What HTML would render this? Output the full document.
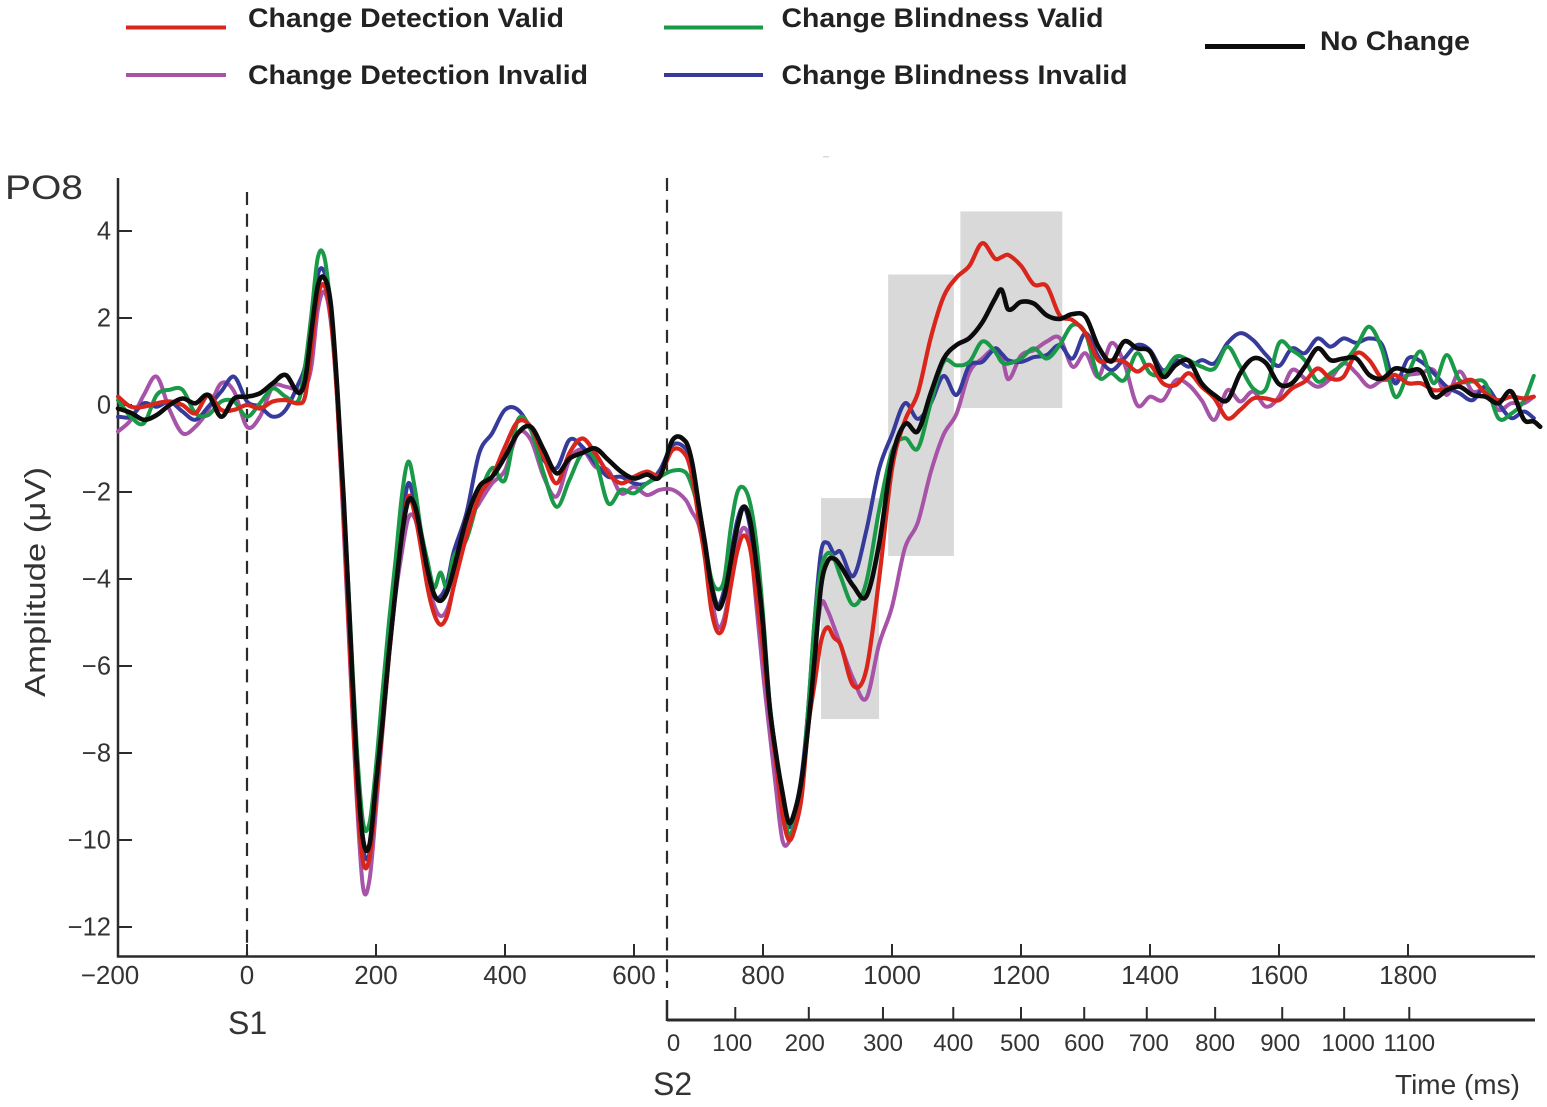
<!DOCTYPE html>
<html lang="en">
<head>
<meta charset="utf-8">
<title>PO8 ERP waveforms</title>
<style>
html,body{margin:0;padding:0;background:#fff;}
svg{display:block;font-family:"Liberation Sans",sans-serif;}
</style>
</head>
<body>
<svg id="chart" width="1547" height="1107" viewBox="0 0 1547 1107" xmlns="http://www.w3.org/2000/svg">
  <g>
    <rect x="126" y="25.5" width="100" height="4" fill="#d9261c"/>
    <text x="248" y="27" font-size="27" font-weight="700" fill="#222" textLength="316" lengthAdjust="spacingAndGlyphs">Change Detection Valid</text>
    <rect x="126" y="73" width="100" height="4" fill="#a653a8"/>
    <text x="248" y="84" font-size="27" font-weight="700" fill="#222" textLength="340" lengthAdjust="spacingAndGlyphs">Change Detection Invalid</text>
    <rect x="664" y="25.5" width="99" height="4" fill="#1a9a48"/>
    <text x="781.5" y="27" font-size="27" font-weight="700" fill="#222" textLength="322" lengthAdjust="spacingAndGlyphs">Change Blindness Valid</text>
    <rect x="664" y="73" width="99" height="4" fill="#363a9b"/>
    <text x="781.5" y="84" font-size="27" font-weight="700" fill="#222" textLength="346" lengthAdjust="spacingAndGlyphs">Change Blindness Invalid</text>
    <rect x="1205" y="44" width="100" height="5" fill="#0c0c0c"/>
    <text x="1320" y="50" font-size="27" font-weight="700" fill="#222" textLength="150" lengthAdjust="spacingAndGlyphs">No Change</text>
  </g>
  <rect x="823" y="156" width="6" height="1.5" fill="#d8d8d8"/>
  <g id="boxes"></g>
  <g id="axes"></g>
  <g id="series"></g>
  <text x="5" y="199" font-size="34" fill="#333" textLength="78" lengthAdjust="spacingAndGlyphs">PO8</text>
  <text transform="translate(45,697) rotate(-90)" font-size="29" fill="#333" textLength="230" lengthAdjust="spacingAndGlyphs">Amplitude (μV)</text>
  <text x="228" y="1034" font-size="32" fill="#333">S1</text>
  <text x="653" y="1095" font-size="32" fill="#333">S2</text>
  <text x="1395" y="1094" font-size="28" fill="#333">Time (ms)</text>
</svg>
<script>
const times = [
  -200,-180,-160,-140,-120,-100,-80,-60,-40,-20,0,20,40,60,80,
  90,100,110,120,130,140,150,160,170,180,190,200,210,220,230,240,250,260,270,280,290,300,310,320,
  340,360,380,400,420,440,460,480,500,520,540,560,580,600,620,640,660,680,
  690,700,710,720,730,740,750,760,770,780,790,800,810,820,830,840,850,860,870,880,890,900,910,920,
  940,960,980,1000,1020,1040,1060,1080,1100,1120,1140,1160,1170,1180,1200,1220,1240,1260,
  1280,1300,1320,1340,1360,1380,1400,1420,1440,1460,1480,1500,1520,1540,1560,1580,1600,1620,1640,1660,
  1680,1700,1720,1740,1760,1780,1800,1820,1840,1860,1880,1900,1920,1940,1960,1980,1995,2005
];
const changeDetectionInvalid = [
  -.61,-.34,.23,.65,-.11,-.65,-.5,-.11,.5,.31,-.5,-.27,.42,.42,.34,
  .4,.9,2.2,2.6,1.9,.1,-2.9,-6,-9,-11.1,-10.9,-9.3,-7.5,-5.8,-4.4,-3.4,-2.6,-2.6,-3.2,-4,-4.6,-4.85,-4.7,-4.2,
  -2.8,-2.26,-1.8,-1.5,-.65,-.8,-1.65,-2.1,-1.26,-1.03,-1.42,-1.5,-2.03,-1.88,-2.07,-1.95,-1.95,-2.18,
  -2.46,-2.74,-3.45,-4.4,-5.1,-4.88,-4.08,-3.21,-2.82,-3.2,-4.64,-6.15,-7.5,-8.8,-10,-10.05,-9.5,-8.6,-7.2,-5.67,-4.56,-4.72,-5.1,-5.5,
  -6.3,-6.75,-5.5,-4.64,-3.29,-2.7,-1.55,-.68,-.2,.75,1.07,1.3,1.14,.59,1.14,1.26,1.46,1.54,
  .88,1.19,.65,1.42,.96,0,.19,.11,.57,.46,.11,-.34,.34,.08,.31,-.04,.19,.8,.61,.42,
  .61,.96,.73,.42,.57,.57,.69,.73,.8,.23,.77,.31,.34,-.11,.04,.04,.19,null
];
const changeBlindnessInvalid = [
  -.27,-.27,.04,-.04,.08,-.15,-.34,-.04,.31,.65,.08,-.04,-.27,-.11,.5,
  .9,1.9,3,3.05,2.2,.3,-2.4,-5.5,-8.5,-10.2,-10.3,-8.9,-7.2,-5.6,-4.1,-2.7,-1.8,-2.3,-3.2,-4,-4.4,-4.4,-4.1,-3.4,
  -2.5,-1.11,-.65,-.11,-.11,-.57,-1.26,-1.45,-.8,-.96,-1.34,-1.65,-1.65,-1.8,-1.8,-1.5,-.92,-1,
  -1.39,-2.26,-3.13,-4.08,-4.6,-4.24,-3.45,-2.66,-2.34,-2.82,-3.93,-5.04,-6.85,-8,-9,-9.7,-9.3,-8.5,-7,-4.96,-3.37,-3.17,-3.41,-3.37,
  -3.93,-2.9,-1.47,-.68,.04,-.32,.04,.67,.23,.91,.99,1.3,1.18,1.03,.99,1.1,1.15,1.38,
  1.07,1.65,1.11,.8,1.07,1.38,1.26,.8,1.03,.88,1.03,.96,1.42,1.65,1.49,1.15,.9,1.3,1.19,1.53,
  1.34,1.53,1.43,1.53,1.38,.5,1.07,1,.73,.42,.27,.11,.42,.04,-.3,-.15,-.3,null
];
const changeBlindnessValid = [
  .11,-.27,-.42,.23,.35,.35,-.19,-.23,.08,.08,-.27,.04,.38,.19,.11,
  .9,2.1,3.4,3.4,2.2,.4,-2.2,-5,-7.8,-9.6,-9.6,-8.3,-6.6,-5,-3.6,-2.1,-1.3,-1.9,-2.9,-3.6,-4.2,-3.85,-4.2,-3.5,
  -3.1,-2.1,-1.45,-1.72,-.34,-.57,-1.57,-2.34,-1.72,-1.11,-1.26,-2.26,-1.95,-2.03,-1.8,-1.65,-1.51,-1.55,
  -1.87,-2.42,-3.2,-4,-4.24,-4,-2.82,-2.02,-1.9,-2.26,-3.2,-4.8,-6.8,-8,-9,-9.9,-9.5,-8.8,-7,-4.96,-3.77,-3.41,-3.53,-3.93,
  -4.6,-4.08,-2.42,-1.07,-.76,-1,.04,.99,.91,.99,1.46,1.22,.99,.95,1.07,1.3,1.07,1.38,
  1.84,1.65,.65,.73,.57,1.19,.73,.73,1.11,1.03,.88,.84,1.34,.88,.38,.38,1.42,1.26,1.03,.54,
  .73,.96,1.34,1.8,1.26,.19,.73,1.23,.5,1.15,.57,.54,.5,-.3,-.2,.1,.67,null
];
const changeDetectionValid = [
  .19,-.04,-.04,.04,.08,0,-.19,.23,-.11,-.11,0,-.08,.08,.11,.04,
  .2,1.3,2.5,2.75,2,.1,-2.6,-5.8,-8.8,-10.5,-10.4,-9,-7.4,-5.8,-4.3,-3,-2.1,-2.5,-3.3,-4.2,-4.8,-5.05,-4.85,-4.2,
  -3.03,-2.1,-1.65,-.96,-.38,-.5,-1.19,-1.8,-1.1,-.77,-1.11,-1.57,-1.8,-1.65,-1.53,-1.6,-1.03,-1.15,
  -1.63,-2.58,-3.53,-4.72,-5.23,-5.04,-4.16,-3.37,-3,-3.3,-4.4,-5.6,-7,-8.2,-9.4,-10,-9.7,-9,-7.4,-6.4,-5.43,-5.11,-5.35,-5.5,
  -6.45,-6.1,-4,-1.47,-.36,.27,1.54,2.49,2.93,3.2,3.72,3.36,3.4,3.45,3.2,2.77,2.73,2.06,
  1.95,1.65,1.03,1.03,1,.77,.92,.5,.46,.73,.42,.15,-.31,-.11,.15,.15,.11,.38,.54,.84,
  .61,.65,1.19,1.03,.61,.69,.5,.5,.34,.38,.5,.57,.27,.11,.19,.15,.19,null
];
const noChange = [
  -.08,-.18,-.34,-.23,0,.15,.04,.23,-.27,.15,.19,.27,.5,.69,.28,
  .57,1.72,2.75,2.92,2.3,.35,-2.2,-5.2,-8.2,-10,-10.1,-8.7,-7.3,-5.7,-4.3,-3,-2.2,-2.3,-3,-3.8,-4.35,-4.5,-4.3,-3.8,
  -2.64,-1.88,-1.65,-1.19,-.65,-.5,-1.03,-1.57,-1.23,-1.1,-1,-1.26,-1.53,-1.69,-1.6,-1.65,-.8,-.84,
  -1.31,-2.26,-3.2,-4.16,-4.68,-4.4,-3.6,-2.82,-2.34,-2.66,-3.7,-5.05,-6.9,-8,-8.9,-9.6,-9.3,-8.6,-7.4,-5.83,-4.16,-3.6,-3.53,-3.69,
  -4.16,-4.4,-3.2,-1.23,-.44,-.6,.27,1.06,1.38,1.54,1.9,2.45,2.65,2.2,2.37,2.33,2.06,1.98,
  2.09,2.03,1.34,1,1.46,1.3,1.23,.65,.92,1.02,.5,.23,.11,.73,1.07,.96,.48,.5,.88,1.3,
  1.03,1.07,1.07,.69,.61,.84,.78,.78,.19,.34,.42,.23,.19,.04,.31,-.34,-.38,-.5
];
const yTicks = [4,2,0,-2,-4,-6,-8,-10,-12];
const xTicks = [-200,0,200,400,600,800,1000,1200,1400,1600,1800];
const s2Ticks = [0,100,200,300,400,500,600,700,800,900,1000,1100];
const s2TickOnMainAxisMs = [652,757,871,986,1095,1200,1298,1395,1501,1605,1701,1802];
const windowStartMs = [890,994,1106];
const windowEndMs = [980,1096,1264];
const windowTopUv = [-2.14,3.0,4.45];
const windowBottomUv = [-7.22,-3.47,-.07];

const xScale = t => 247 + 0.645 * t;
const yScale = v => 405 - 43.5 * v;
const NS = 'http://www.w3.org/2000/svg';
const axes = document.getElementById('axes');
const boxes = document.getElementById('boxes');
const seriesLayer = document.getElementById('series');

function mk(parent, tag, attrs, text) {
  const el = document.createElementNS(NS, tag);
  for (const k in attrs) el.setAttribute(k, attrs[k]);
  if (text !== undefined) el.textContent = text;
  parent.appendChild(el);
  return el;
}
function fmt(n) { return n < 0 ? '\u2212' + Math.abs(n) : String(n); }

windowStartMs.forEach((s, i) => {
  const r = mk(boxes, 'rect', {
    x: xScale(s), y: yScale(windowTopUv[i]),
    width: xScale(windowEndMs[i]) - xScale(s),
    height: yScale(windowBottomUv[i]) - yScale(windowTopUv[i]),
    fill: '#d9d9d9'
  });
  
  
});

function line(x1, y1, x2, y2, w, name, dash) {
  const l = mk(axes, 'line', {x1, y1, x2, y2, stroke: '#2b2b2b', 'stroke-width': w});
  if (dash) l.setAttribute('stroke-dasharray', dash);
  
  
}

line(118, 178, 118, 957.5, 2.5, 'y-axis-line');
line(117, 956.5, 1535, 956.5, 2.5, 'x-axis-line');
line(667, 1000, 667, 1021, 2.5, 's2-axis-stem');
line(667, 1020, 1535, 1020, 3, 's2-axis-line');
line(247, 192, 247, 957, 2.2, 's1-onset-line', '13 8.7');
line(667, 178, 667, 988, 2.2, 's2-onset-line', '13 8.7');

yTicks.forEach(v => {
  line(118, yScale(v), 132, yScale(v), 2, 'y-tick');
  const t = mk(axes, 'text', {x: 111, y: yScale(v) + 8.5, 'text-anchor': 'end', 'font-size': 25.5, fill: '#333'}, fmt(v));
  
  
});
xTicks.forEach(v => {
  if (v > -200) line(xScale(v), 944, xScale(v), 956, 2, 'x-tick');
  const cx = v < 0 ? xScale(v) - 8 : xScale(v);
  const t = mk(axes, 'text', {x: cx, y: 984, 'text-anchor': 'middle', 'font-size': 26, fill: '#333'}, fmt(v));
  
  
});
s2Ticks.forEach((v, i) => {
  const px = xScale(s2TickOnMainAxisMs[i]);
  if (v > 0) line(px, 1007, px, 1020, 2, 's2-tick');
  let cx = px;
  if (v === 0) cx = px + 6;
  if (v === 100) cx = px - 3;
  if (v === 200) cx = px - 4;
  if (v === 500) cx = px - 1;
  if (v === 700) cx = px + 2;
  if (v === 900) cx = px - 2;
  if (v === 1000) cx = px + 4;
  const t = mk(axes, 'text', {x: cx, y: 1051, 'text-anchor': 'middle', 'font-size': 24, fill: '#333'}, String(v));
  
  
});

function buildPath(ts, vs) {
  const pts = [];
  ts.forEach((t, i) => { if (vs[i] !== null) pts.push([xScale(t), yScale(vs[i])]); });
  let d = 'M' + pts[0][0].toFixed(1) + ' ' + pts[0][1].toFixed(1);
  for (let i = 0; i < pts.length - 1; i++) {
    const p0 = pts[Math.max(i - 1, 0)], p1 = pts[i], p2 = pts[i + 1], p3 = pts[Math.min(i + 2, pts.length - 1)];
    const h = p2[0] - p1[0];
    const m1 = (p2[1] - p0[1]) / ((p2[0] - p0[0]) || 1);
    const m2 = (p3[1] - p1[1]) / ((p3[0] - p1[0]) || 1);
    d += 'C' + (p1[0] + h / 3).toFixed(1) + ' ' + (p1[1] + m1 * h / 3).toFixed(1) + ' ' +
         (p2[0] - h / 3).toFixed(1) + ' ' + (p2[1] - m2 * h / 3).toFixed(1) + ' ' +
         p2[0].toFixed(1) + ' ' + p2[1].toFixed(1);
  }
  return d;
}

function drawSeries(values, color, width, name) {
  const p = mk(seriesLayer, 'path', {
    d: buildPath(times, values), fill: 'none', stroke: color,
    'stroke-width': width, 'stroke-linejoin': 'round', 'stroke-linecap': 'round'
  });
  
  
}
drawSeries(changeDetectionInvalid, '#a653a8', 4, 'series-change-detection-invalid');
drawSeries(changeBlindnessInvalid, '#363a9b', 4, 'series-change-blindness-invalid');
drawSeries(changeBlindnessValid, '#1a9a48', 4, 'series-change-blindness-valid');
drawSeries(changeDetectionValid, '#d9261c', 4.2, 'series-change-detection-valid');
drawSeries(noChange, '#0c0c0c', 4.6, 'series-no-change');
</script>
</body>
</html>
